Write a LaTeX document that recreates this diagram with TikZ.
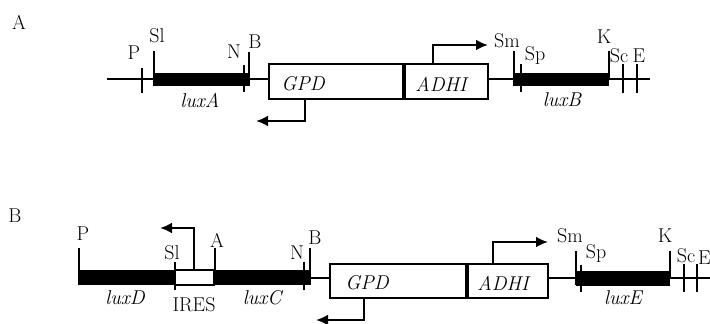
\documentclass[tikz,border=0pt]{standalone}
\usepackage{fontspec}
\usepackage{tikz}
\usetikzlibrary{arrows,arrows.meta}
\begin{document}
\begin{tikzpicture}[x=1pt,y=-1pt,font=\fontsize{20}{22}\selectfont,
	dna/.style={line width=2.6pt},
	site/.style={line width=2.5pt},
	gene/.style={fill=black},
	cassette/.style={draw,line width=1.4pt},
	prom/.style={-{Latex[length=12pt,width=11pt]},line width=2.5pt},
	gname/.style={font=\fontsize{20}{22}\selectfont\itshape}]
	\useasboundingbox (0,0) rectangle (710,324);
	% panel A
	\node (panA) at (19,22) {A};
	\draw [dna] (107,79) -- (269,79);
	\draw [dna] (488,79) -- (650,79);
	\fill [gene] (153,73) rectangle (250,86);
	\fill [gene] (514,73) rectangle (609,86);
	\draw [site] (142,68) -- (142,93);
	\draw [site] (154,51) -- (154,86);
	\draw [site] (244,65) -- (244,92);
	\draw [site] (249,52) -- (249,80);
	\draw [site] (514,51) -- (514,86);
	\draw [site] (521,64) -- (521,92);
	\draw [site] (609,51) -- (609,80);
	\draw [site] (623,64) -- (623,93);
	\draw [site] (637,64) -- (637,93);
	\draw [cassette] (269,64) rectangle (488,99);
	\draw [line width=4.5pt] (404,64) -- (404,99);
	\draw [prom] (433,64) -- (433,45) -- (488,45);
	\draw [prom] (305,99) -- (305,121) -- (256,121);
	\node (pA) at (134,53) {P};
	\node (slA) at (157,36) {Sl};
	\node (nA) at (234,52) {N};
	\node (bA) at (255,42) {B};
	\node (smA) at (507,41) {Sm};
	\node (spA) at (535,55) {Sp};
	\node (kA) at (604,37) {K};
	\node (scA) at (619,56) {Sc};
	\node (eA) at (639,56) {E};
	\node [gname] (gpdA) at (303,84) {GPD};
	\node [gname] (adhA) at (441,84) {ADHI};
	\node [gname] (luxA) at (200,100) {luxA};
	\node [gname] (luxB) at (562,100) {luxB};
	% panel B
	\node (panB) at (15,216) {B};
	\draw [dna] (79,278) -- (330,278);
	\draw [dna] (548,278) -- (712,278);
	\fill [gene] (79,270) rectangle (175,285);
	\draw [line width=1.1pt, fill=white] (175,270) rectangle (214,285);
	\fill [gene] (214,270) rectangle (310,285);
	\fill [gene] (576,271) rectangle (670,286);
	\draw [site] (79,248) -- (79,285);
	\draw [site] (175,262) -- (175,290);
	\draw [site] (215,248) -- (215,285);
	\draw [site] (304,262) -- (304,290);
	\draw [site] (310,248) -- (310,285);
	\draw [site] (576,251) -- (576,285);
	\draw [site] (581,265) -- (581,292);
	\draw [site] (670,251) -- (670,278);
	\draw [site] (684,264) -- (684,292);
	\draw [site] (697,264) -- (697,292);
	\draw [cassette] (330,264) rectangle (548,298);
	\draw [line width=4.5pt] (467,264) -- (467,298);
	\draw [prom] (194,270) -- (194,228) -- (160,228);
	\draw [prom] (493,264) -- (493,242) -- (548,242);
	\draw [prom] (364,298) -- (364,320) -- (316,320);
	\node (pB) at (83,234) {P};
	\node (slB) at (172,253) {Sl};
	\node (aB) at (217,240) {A};
	\node (nB) at (297,253) {N};
	\node (bB) at (315,238) {B};
	\node (smB) at (570,236) {Sm};
	\node (spB) at (596,253) {Sp};
	\node (kB) at (665,236) {K};
	\node (scB) at (686,256) {Sc};
	\node [anchor=west, inner sep=0pt] (eB) at (698,258) {E};
	\node [gname] (gpdB) at (367,283) {GPD};
	\node [gname] (adhB) at (503,283) {ADHI};
	\node [gname] (luxD) at (125,298) {luxD};
	\node (ires) at (194,305) {IRES};
	\node [gname] (luxC) at (262,298) {luxC};
	\node [gname] (luxE) at (623,298) {luxE};
\end{tikzpicture}
\end{document}
